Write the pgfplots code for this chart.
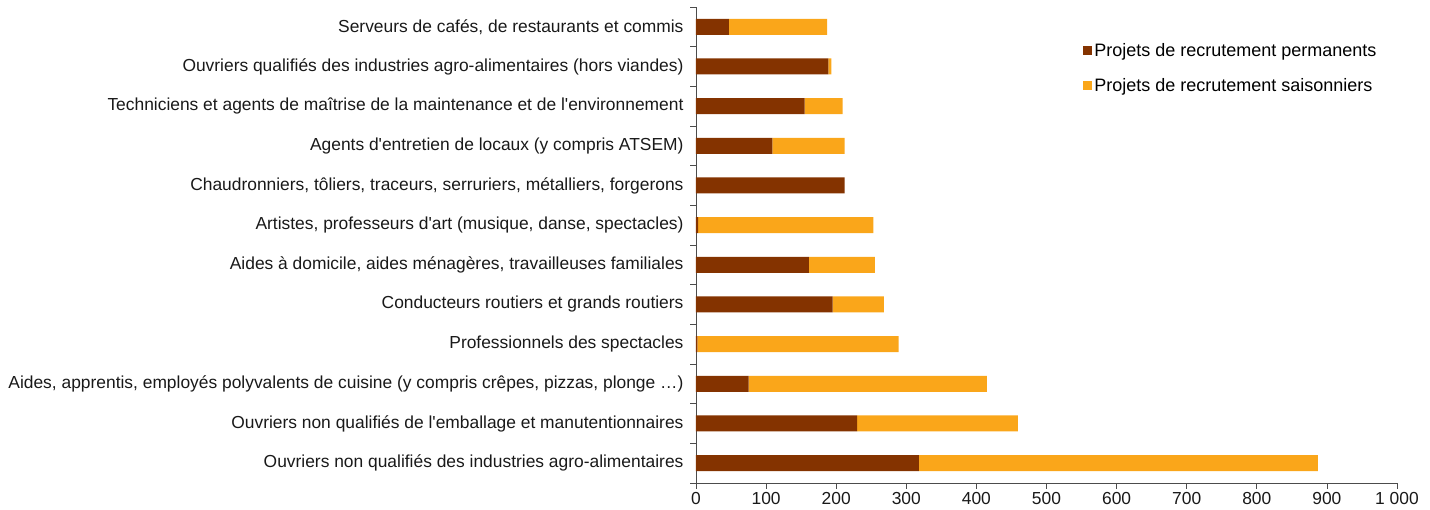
\documentclass[border=0pt]{standalone}
\usepackage{pgfplots}
\pgfplotsset{compat=1.18}
\usepackage{fontspec}
\setmainfont{Liberation Sans}[Ligatures=TeXOff]
\definecolor{perm}{RGB}{132,51,0}
\definecolor{sais}{RGB}{250,166,26}
\begin{document}
\begin{tikzpicture}[x=1pt,y=1pt]
\path[use as bounding box] (0,0) rectangle (1430,510);
\begin{axis}[
  at={(696pt,27pt)}, anchor=south west,
  scale only axis, width=701pt, height=476pt,
  xbar stacked, bar width=16pt,
  xmin=0, xmax=1000, ymin=-0.5, ymax=11.5,
  axis x line=bottom, axis y line=left,
  axis line style={-, draw=black!70, line width=0.8pt},
  xtick={0,100,...,1000},
  xticklabels={0,100,200,300,400,500,600,700,800,900,1 000},
  ytick={0,...,11},
  yticklabels={
    Ouvriers non qualifiés des industries agro-alimentaires,
    Ouvriers non qualifiés de l'emballage et manutentionnaires,
    {Aides, apprentis, employés polyvalents de cuisine (y compris crêpes, pizzas, plonge …)},
    Professionnels des spectacles,
    Conducteurs routiers et grands routiers,
    {Aides à domicile, aides ménagères, travailleuses familiales},
    {Artistes, professeurs d'art (musique, danse, spectacles)},
    {Chaudronniers, tôliers, traceurs, serruriers, métalliers, forgerons},
    Agents d'entretien de locaux (y compris ATSEM),
    Techniciens et agents de maîtrise de la maintenance et de l'environnement,
    Ouvriers qualifiés des industries agro-alimentaires (hors viandes),
    {Serveurs de cafés, de restaurants et commis}},
  minor ytick={-0.5,0.5,...,11.5},
  tick align=outside,
  y tick style={draw=none},
  minor y tick style={draw=black!70, line width=0.8pt},
  x tick style={draw=black!70, line width=0.8pt},
  major tick length=6pt, minor tick length=6pt,
  ticklabel style={font=\fontsize{17.4}{20}\selectfont, text=black!90},
  /pgf/number format/assume math mode=true,
  yticklabel style={xshift=-3pt},
  legend style={draw=none, fill=none, at={(0.548,0.933)}, anchor=north west,
    font=\fontsize{18}{20}\selectfont, row sep=17pt,
    /tikz/every even column/.append style={column sep=2pt}},
  legend cell align=left,
  clip=false,
]
\addplot[fill=perm, draw=none, legend image code/.code={\fill[perm] (0pt,-4.5pt) rectangle (9pt,4.5pt);}] coordinates {
  (318,0) (230,1) (75,2) (2,3) (195,4) (161,5) (3,6) (212,7) (109,8) (155,9) (189,10) (47,11)};
\addlegendentry{Projets de recrutement permanents}
\addplot[fill=sais, draw=none, legend image code/.code={\fill[sais] (0pt,-4.5pt) rectangle (9pt,4.5pt);}] coordinates {
  (569,0) (229,1) (340,2) (287,3) (73,4) (94,5) (250,6) (0,7) (103,8) (54,9) (4,10) (140,11)};
\addlegendentry{Projets de recrutement saisonniers}
\end{axis}
\end{tikzpicture}
\end{document}
